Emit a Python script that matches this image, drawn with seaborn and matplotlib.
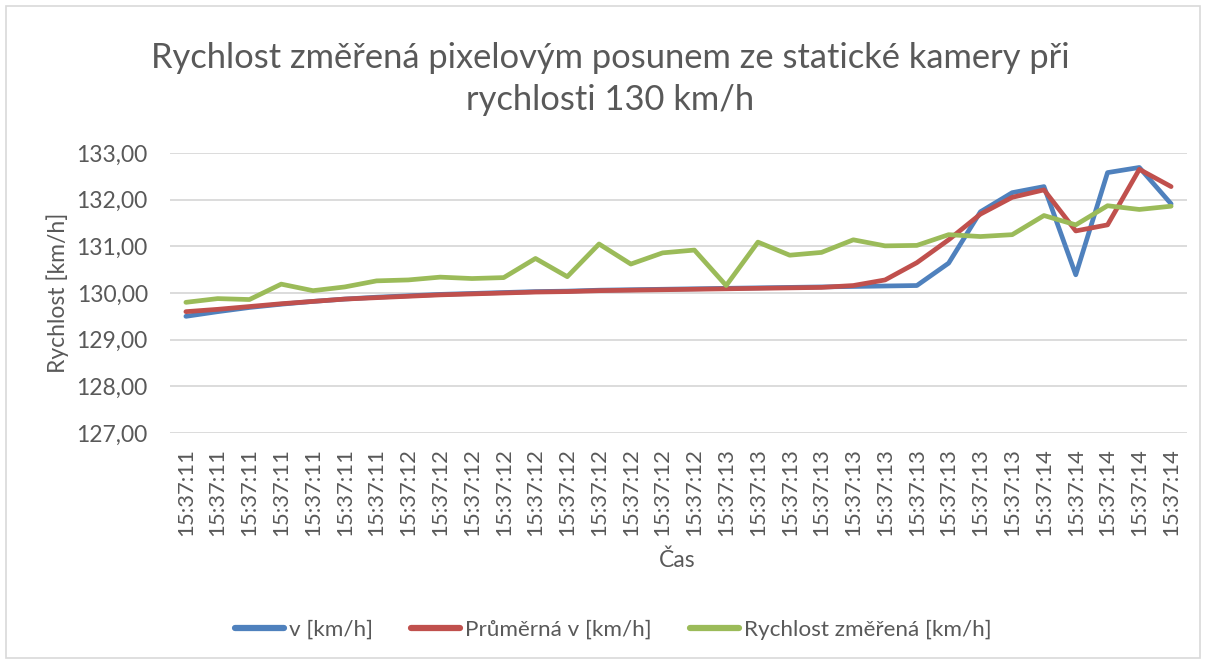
import matplotlib
matplotlib.use("Agg")
import matplotlib.pyplot as plt
import seaborn as sns
import pandas as pd
from matplotlib.patches import Rectangle

times = (["15:37:11"] * 7 + ["15:37:12"] * 10 + ["15:37:13"] * 10 + ["15:37:14"] * 5)

v_kmh = [129.50, 129.60, 129.69, 129.76, 129.82, 129.87, 129.91, 129.94, 129.97, 129.99,
         130.01, 130.03, 130.04, 130.06, 130.07, 130.08, 130.09, 130.10, 130.11, 130.12,
         130.13, 130.14, 130.15, 130.16, 130.64, 131.74, 132.15, 132.28, 130.39, 132.58,
         132.69, 131.91]

prumerna_v = [129.60, 129.65, 129.71, 129.77, 129.82, 129.87, 129.90, 129.93, 129.96, 129.98,
              130.00, 130.02, 130.03, 130.05, 130.06, 130.07, 130.08, 130.09, 130.10, 130.11,
              130.12, 130.16, 130.28, 130.65, 131.14, 131.69, 132.05, 132.21, 131.33, 131.46,
              132.65, 132.28]

rychlost_zmerena = [129.80, 129.88, 129.86, 130.19, 130.05, 130.13, 130.26, 130.28, 130.34, 130.31,
                    130.33, 130.74, 130.35, 131.05, 130.62, 130.86, 130.92, 130.16, 131.09, 130.81,
                    130.87, 131.14, 131.01, 131.02, 131.25, 131.21, 131.25, 131.66, 131.46, 131.87,
                    131.79, 131.86]

series_names = ["v [km/h]", "Průměrná v [km/h]", "Rychlost změřená [km/h]"]
colors = ["#4F81BD", "#C0504D", "#9BBB59"]

title = "Rychlost změřená pixelovým posunem ze statické kamery při\nrychlosti 130 km/h"
y_ticks = [127, 128, 129, 130, 131, 132, 133]

sns.set_theme(style="white")
plt.rcParams['font.family'] = ['Lato', 'DejaVu Sans']
text_color = "#595959"

idx = list(range(len(times)))
df = pd.DataFrame({
    "idx": idx * 3,
    "value": v_kmh + prumerna_v + rychlost_zmerena,
    "series": [series_names[0]] * len(idx) + [series_names[1]] * len(idx) + [series_names[2]] * len(idx),
})

fig = plt.figure(figsize=(12.07, 6.64), dpi=100)
W, H = 1207, 664
ax = fig.add_axes([170 / W, (H - 433) / H, (1187 - 170) / W, (433 - 153) / H])

sns.lineplot(data=df, x="idx", y="value", hue="series", hue_order=series_names,
             palette=colors, linewidth=3.4, ax=ax, legend=True, sort=False)

ax.set_xlim(-0.5, len(times) - 0.5)
ax.set_ylim(127, 133)
ax.set_yticks(y_ticks)
ax.set_yticklabels([f"{t:.2f}".replace(".", ",") for t in y_ticks], fontsize=16.5, color=text_color)
ax.set_xticks(idx)
ax.set_xticklabels(times, rotation=90, fontsize=15.8, color=text_color)
ax.tick_params(axis="both", length=0)
ax.tick_params(axis="x", pad=11)
ax.tick_params(axis="y", pad=16)
ax.grid(axis="y", color="#D9D9D9", linewidth=1.3)
ax.grid(axis="x", visible=False)
for s in ax.spines.values():
    s.set_visible(False)
ax.set_axisbelow(True)

ax.set_xlabel("")
ax.set_ylabel("")
fig.text(58 / W, 1 - 293 / H, "Rychlost [km/h]", rotation=90, ha="center", va="center",
         fontsize=16.5, color=text_color)
fig.text(677 / W, 1 - 560 / H, "Čas", ha="center", va="center", fontsize=16.5, color=text_color)
fig.text(610 / W, 1 - 79 / H, title, ha="center", va="center", fontsize=24.8,
         color=text_color, linespacing=1.42)

leg = ax.legend(loc="center", bbox_to_anchor=(613 / W, 1 - 630 / H), bbox_transform=fig.transFigure,
                ncol=3, frameon=False, fontsize=16.2, handlelength=2.2, handletextpad=0.2,
                columnspacing=1.7)
for t in leg.get_texts():
    t.set_color(text_color)
for l in leg.get_lines():
    l.set_linewidth(4.5)

fig.add_artist(Rectangle((6 / W, 6 / H), (1200 - 6) / W, (658 - 6) / H, transform=fig.transFigure,
                         fill=False, edgecolor="#D9D9D9", linewidth=1.2))

fig.savefig("out.png", dpi=100)
